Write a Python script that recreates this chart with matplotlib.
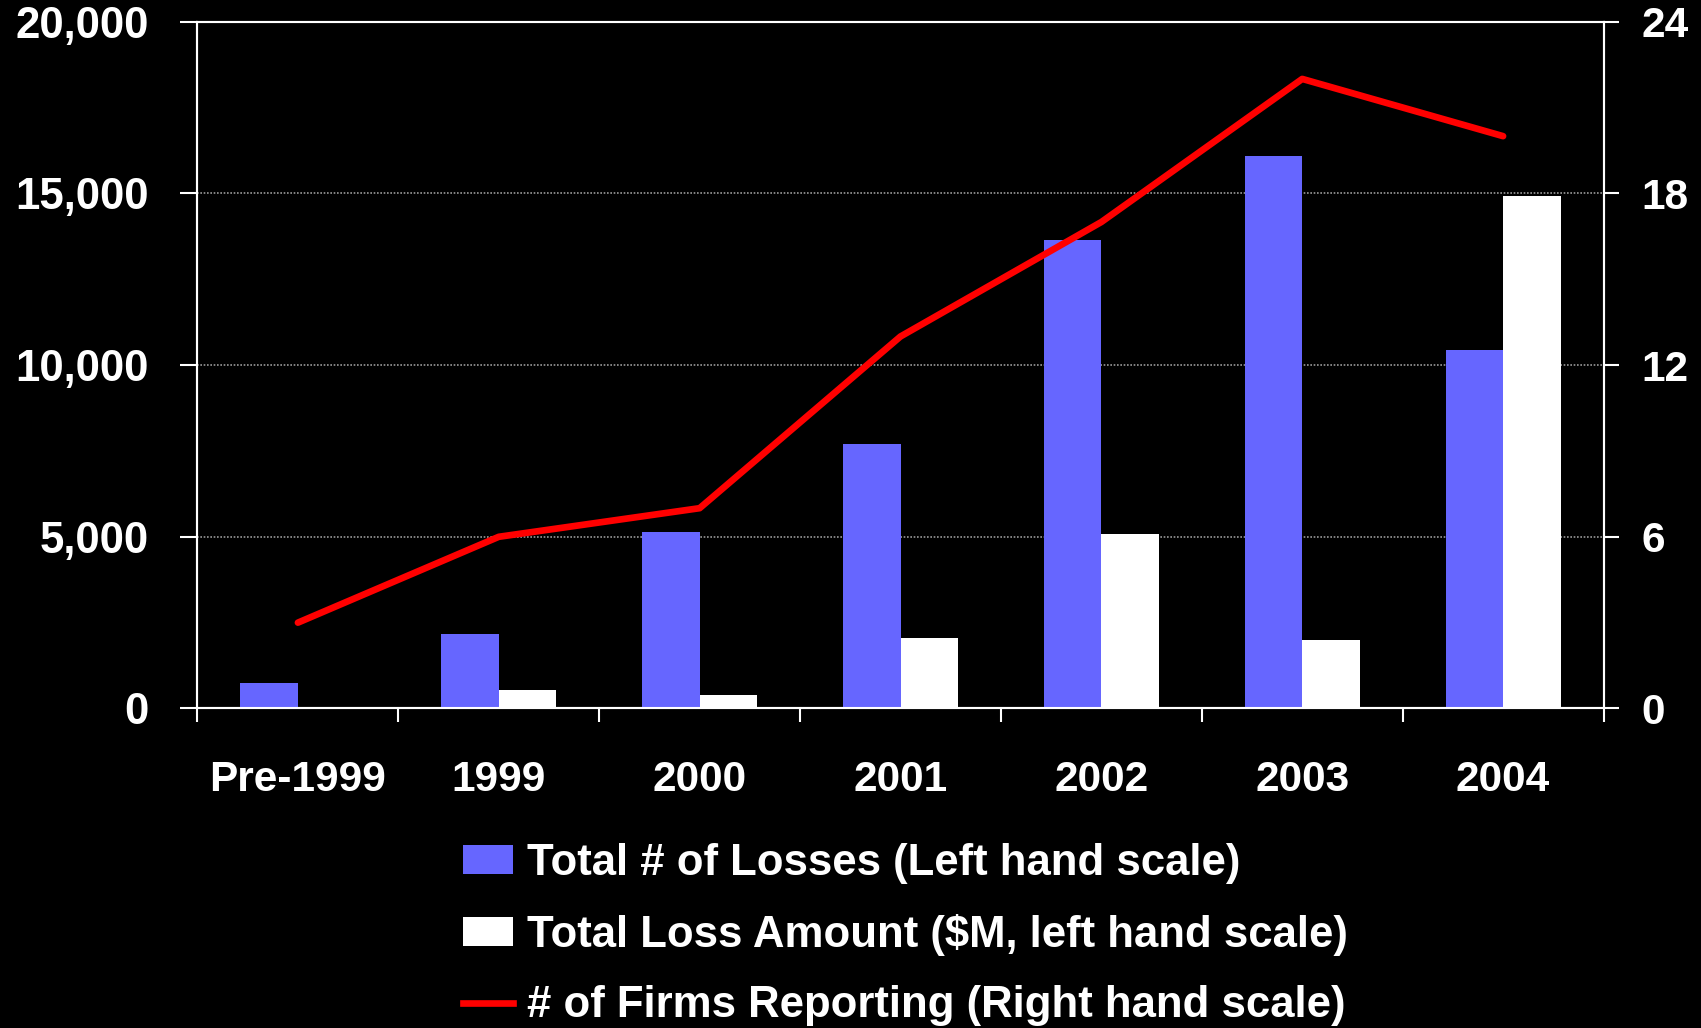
import matplotlib
matplotlib.use("Agg")
import matplotlib.pyplot as plt
import numpy as np
from matplotlib.patches import Patch
from matplotlib.lines import Line2D
from matplotlib.ticker import FuncFormatter

categories = ["Pre-1999", "1999", "2000", "2001", "2002", "2003", "2004"]
total_losses = [750, 2180, 5150, 7710, 13650, 16080, 10430]
loss_amount = [50, 540, 380, 2050, 5090, 1990, 14910]
firms_reporting = [3, 6, 7, 13, 17, 22, 20]

left_ticks = [0, 5000, 10000, 15000, 20000]
right_ticks = [0, 6, 12, 18, 24]

plt.rcParams['font.family'] = ['Liberation Sans', 'DejaVu Sans']
plt.rcParams['font.weight'] = 'bold'

fig = plt.figure(figsize=(17.01, 10.28), dpi=100, facecolor='black')
ax = fig.add_axes([0.1161, 0.3108, 0.8266, 0.6681])
ax.set_facecolor('black')
ax2 = ax.twinx()

x = np.arange(len(categories))
w = 0.286
blue = '#6666FF'
ax.bar(x - w/2, total_losses, width=w, color=blue, zorder=3)
ax.bar(x + w/2, loss_amount, width=w, color='white', zorder=3)

ax.set_xlim(-0.5, len(categories) - 0.5)
ax.set_ylim(0, 20000)
ax.set_yticks(left_ticks)
ax.yaxis.set_major_formatter(FuncFormatter(lambda v, p: f"{int(v):,}"))
for yv in left_ticks[1:-1]:
    ax.axhline(yv, color='#999999', lw=1.2, ls=(0, (1, 1)), zorder=1)

ax2.plot(x, firms_reporting, color='#FF0000', lw=4.8, solid_capstyle='round',
         solid_joinstyle='round', zorder=5)
ax2.set_ylim(0, 24)
ax2.set_yticks(right_ticks)

# category ticks at boundaries, labels at centres
ax.set_xticks(np.arange(-0.5, len(categories), 1.0))
ax.set_xticklabels([])
ax.set_xticks(x, minor=True)
ax.set_xticklabels(categories, minor=True)
ax.tick_params(axis='x', which='major', direction='out', length=10, width=1.5, color='white')
ax.tick_params(axis='x', which='minor', length=0, pad=37, labelsize=30.5, labelcolor='white')
ax.tick_params(axis='y', direction='out', length=12, width=1.5, color='white',
               labelsize=31.5, labelcolor='white', pad=23)
ax2.tick_params(axis='y', direction='out', length=11, width=1.5, color='white',
                labelsize=30.5, labelcolor='white', pad=16)
for t in ax.get_xticklabels(minor=True) + ax.get_yticklabels() + ax2.get_yticklabels():
    t.set_fontweight('bold')

for a in (ax, ax2):
    for s in a.spines.values():
        s.set_color('white')
        s.set_linewidth(1.5)
ax2.set_zorder(ax.get_zorder() + 1)
ax2.patch.set_visible(False)

handles = [Patch(facecolor=blue, edgecolor='none'),
           Patch(facecolor='white', edgecolor='none'),
           Line2D([0], [0], color='#FF0000', lw=4.8)]
labels = ["Total # of Losses (Left hand scale)",
          "Total Loss Amount ($M, left hand scale)",
          "# of Firms Reporting (Right hand scale)"]
leg = fig.legend(handles, labels, loc='upper left', bbox_to_anchor=(0.262, 0.197),
                 frameon=False, fontsize=31.5, handlelength=1.15, handleheight=0.64,
                 handletextpad=0.3, labelspacing=0.68, borderaxespad=0)
for t in leg.get_texts():
    t.set_color('white')
    t.set_fontweight('bold')

fig.savefig('out.png', dpi=100, facecolor='black')
